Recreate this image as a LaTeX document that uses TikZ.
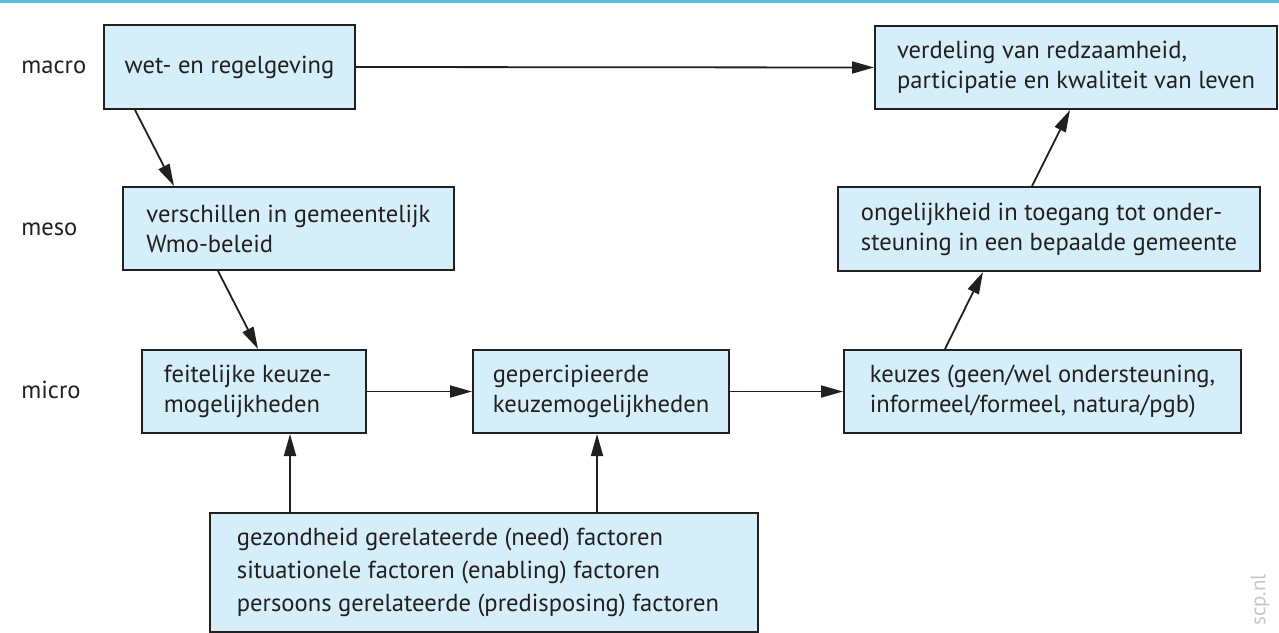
\documentclass[tikz,border=0pt]{standalone}
\usepackage{fontspec}
\setmainfont{PT Sans}
\usetikzlibrary{arrows.meta}
\definecolor{blokblauw}{RGB}{212,238,250}
\definecolor{lijn}{RGB}{35,31,32}
\definecolor{kopblauw}{RGB}{92,184,228}
\tikzset{
	blok/.style={draw=lijn, fill=blokblauw, line width=1pt, anchor=north west, align=left, inner xsep=2pt, text=lijn, font=\fontsize{12.3}{15}\selectfont},
	pijl/.style={draw=lijn, line width=0.9pt, -{Triangle[length=11pt,width=6pt]}},
	niveau/.style={anchor=west, inner sep=0pt, text=lijn, font=\fontsize{12.3}{15}\selectfont}
}
\begin{document}
\begin{tikzpicture}[x=0.5pt,y=-0.5pt]
	\useasboundingbox (0,0) rectangle (1279,632);
	
	% kopregel
	\draw[kopblauw, line width=1.5pt] (0,1.5) -- (1279,1.5);
	
	% niveaus
	\node[niveau] (macro) at (21,67) {macro};
	\node[niveau] (meso) at (21,229) {meso};
	\node[niveau] (micro) at (21,390) {micro};
	
	% macro
	\node[blok, minimum width=125.5pt, minimum height=42pt] (wet) at (103,24) {wet- en regelgeving};
	\node[blok, minimum width=201pt, minimum height=41.5pt] (verdeling) at (874,25) {verdeling van redzaamheid,\\participatie en kwaliteit van leven};
	
	% meso
	\node[blok, minimum width=165.5pt, minimum height=41.5pt] (wmo) at (122,186) {verschillen in gemeentelijk\\Wmo-beleid};
	\node[blok, minimum width=211pt, minimum height=42pt] (ongelijk) at (837,186) {ongelijkheid in toegang tot onder-\\steuning in een bepaalde gemeente};
	
	% micro
	\node[blok, minimum width=112pt, minimum height=41.5pt] (feitelijk) at (141,349) {feitelijke keuze-\\mogelijkheden\hspace*{12pt}};
	\node[blok, minimum width=128pt, minimum height=41.5pt] (gepercipieerd) at (472,349) {gepercipieerde\\keuzemogelijkheden};
	\node[blok, minimum width=198.5pt, minimum height=41.5pt] (keuzes) at (843,349) {keuzes (geen/wel ondersteuning,\\informeel/formeel, natura/pgb)};
	
	% factoren
	\node[blok, minimum width=274pt, minimum height=59.5pt, font=\fontsize{12.3}{16.5}\selectfont] (factoren) at (209,512) {gezondheid gerelateerde (need) factoren\\situationele factoren (enabling) factoren\\persoons gerelateerde (predisposing) factoren\hspace*{6pt}};
	
	% pijlen
	\draw[pijl] (wet.east) -- (verdeling.west);
	\draw[pijl] ([xshift=16pt]wet.south west) -- ([xshift=26pt]wmo.north west);
	\draw[pijl] ([xshift=48pt]wmo.south west) -- ([xshift=58.5pt]feitelijk.north west);
	\draw[pijl] (feitelijk.east) -- (gepercipieerd.west);
	\draw[pijl] (gepercipieerd.east) -- (keuzes.west);
	\draw[pijl] ([xshift=51pt]keuzes.north west) -- ([xshift=73pt]ongelijk.south west);
	\draw[pijl] ([xshift=97.5pt]ongelijk.north west) -- ([xshift=98pt]verdeling.south west);
	\draw[pijl] ([xshift=40.5pt]factoren.north west) -- ([xshift=74.5pt]feitelijk.south west);
	\draw[pijl] ([xshift=194pt]factoren.north west) -- ([xshift=62.5pt]gepercipieerd.south west);
	
	% bron
	\node[rotate=90, text=lijn!25, font=\fontsize{10.5}{12}\selectfont] (bron) at (1260,600) {scp.nl};
	
\end{tikzpicture}
\end{document}
